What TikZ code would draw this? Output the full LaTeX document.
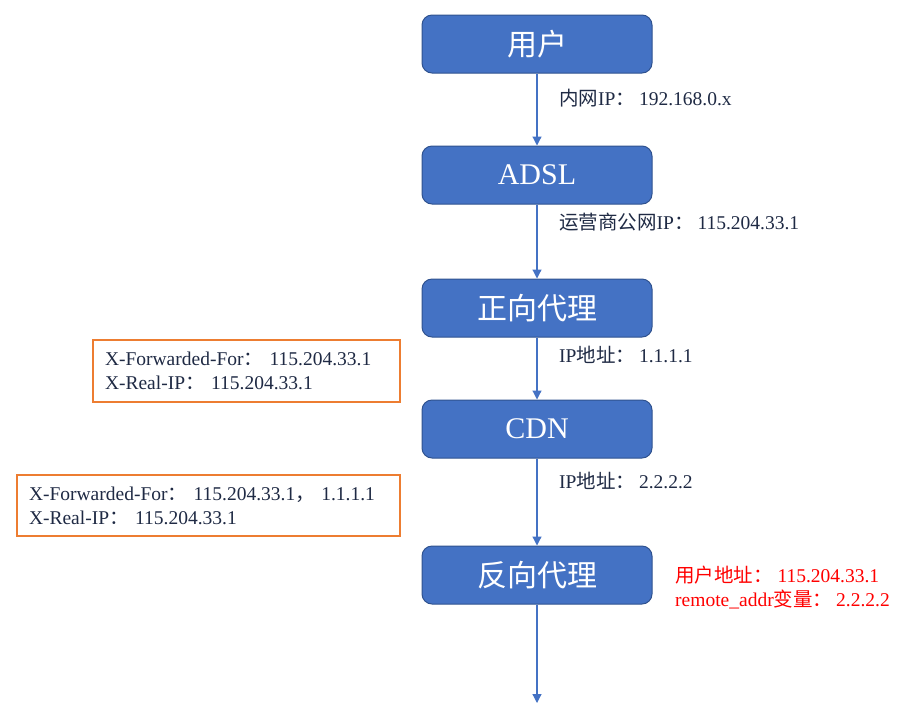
\documentclass[tikz,border=0pt]{standalone}
\usepackage{fontspec}
\setmainfont{Liberation Serif}
\newfontfamily\cn{Noto Sans CJK SC}
\usetikzlibrary{arrows.meta}
\definecolor{boxblue}{HTML}{4472C4}
\definecolor{boxedge}{HTML}{2F528F}
\definecolor{orng}{HTML}{ED7D31}
\definecolor{lbl}{HTML}{1F2A44}
\definecolor{redt}{HTML}{FF0000}
\tikzset{
  stepbox/.style={draw=boxedge, line width=1pt, fill=boxblue, rounded corners=10pt,
    minimum width=230pt, minimum height=58pt, text=white, font=\fontsize{30}{32}\selectfont, inner sep=0pt},
  flowarrow/.style={draw=boxblue, line width=1.2pt, -{Triangle[width=9pt,length=9pt]}},
  lbltext/.style={anchor=west, text=lbl, font=\fontsize{19.5}{22}\selectfont, inner sep=0pt},
  hdrbox/.style={draw=orng, line width=1.3pt, align=left, text=lbl,
    font=\fontsize{19.5}{24}\selectfont, inner xsep=12pt, inner ysep=0pt},
  redtext/.style={anchor=west, text=redt, align=left, font=\fontsize{19.5}{24}\selectfont, inner sep=0pt}
}
\begin{document}
\begin{tikzpicture}[x=1pt,y=-1pt]
\useasboundingbox (0,0) rectangle (915,713);
\node[stepbox] (user) at (537,44) {\cn 用户};
\node[stepbox] (adsl) at (537,175) {ADSL};
\node[stepbox] (fwd) at (537,308) {\cn 正向代理};
\node[stepbox] (cdn) at (537,429) {CDN};
\node[stepbox] (rev) at (537,575) {\cn 反向代理};
\coordinate (end) at (537,703);

\draw[flowarrow] (user) -- (adsl);
\draw[flowarrow] (adsl) -- (fwd);
\draw[flowarrow] (fwd) -- (cdn);
\draw[flowarrow] (cdn) -- (rev);
\draw[flowarrow] (rev) -- (end);

\node[lbltext] (l1) at (559,98) {{\cn 内网}IP{\cn ：}\kern4pt192.168.0.x};
\node[lbltext] (l2) at (559,222) {{\cn 运营商公网}IP{\cn ：}\kern4pt115.204.33.1};
\node[lbltext] (l3) at (559,355) {IP{\cn 地址：}\kern4pt1.1.1.1};
\node[lbltext] (l4) at (559,481) {IP{\cn 地址：}\kern4pt2.2.2.2};

\node[hdrbox, minimum width=307pt, minimum height=62pt, text width=283pt] (h1) at (246.5,371)
  {X-Forwarded-For{\cn ：} 115.204.33.1\\X-Real-IP{\cn ：} 115.204.33.1};
\node[hdrbox, minimum width=383pt, minimum height=61pt, text width=359pt] (h2) at (208.5,505.5)
  {X-Forwarded-For{\cn ：} 115.204.33.1{\cn ，} 1.1.1.1\\X-Real-IP{\cn ：} 115.204.33.1};

\node[redtext] (r1) at (675,588)
  {{\cn 用户地址：} 115.204.33.1\\remote\_addr{\cn 变量：}\kern4pt2.2.2.2};
\end{tikzpicture}
\end{document}
